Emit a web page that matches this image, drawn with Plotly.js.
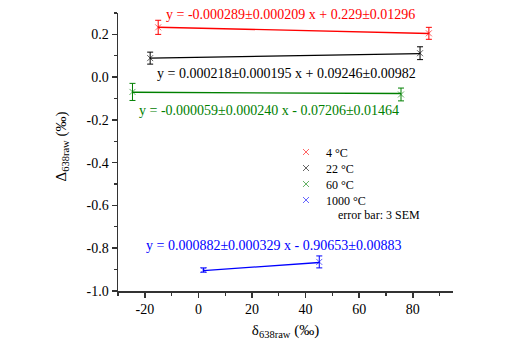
<!DOCTYPE html>
<html><head><meta charset="utf-8">
<script src="https://cdn.plot.ly/plotly-3.0.1.min.js"></script>
<style>body{margin:0;background:#fff}#c{width:518px;height:355px}</style>
</head><body><div id="c"></div>
<script>
const seriesNames = ['4 °C', '22 °C', '60 °C', '1000 °C'];
const colors = ['#ff0000', '#000000', '#008000', '#0000ff'];
const xVals = [[-15, 86], [-18, 82.7], [-24.6, 75.6], [1.9, 45.1]];
const yVals = [[0.233, 0.205], [0.089, 0.112], [-0.069, -0.081], [-0.902, -0.864]];
const yErr = [[0.033, 0.028], [0.028, 0.030], [0.040, 0.030], [0.010, 0.028]];
const slopes = [-0.000289, 0.000218, -0.000059, 0.000882];
const intercepts = [0.229, 0.09246, -0.07206, -0.90653];
const equations = [
  'y = -0.000289±0.000209 x + 0.229±0.01296',
  'y = 0.000218±0.000195 x + 0.09246±0.00982',
  'y = -0.000059±0.000240 x - 0.07206±0.01464',
  'y = 0.000882±0.000329 x - 0.90653±0.00883'
];
const xTickVals = [-20, 0, 20, 40, 60, 80];
const xTickText = ['-20', '0', '20', '40', '60', '80'];
const yTickVals = [-1.0, -0.8, -0.6, -0.4, -0.2, 0.0, 0.2];
const yTickText = ['-1.0', '-0.8', '-0.6', '-0.4', '-0.2', '0.0', '0.2'];

// layout positions (not data)
const eqPos = [[34.5, 0.294], [32.8, 0.019], [26.5, -0.154], [28, -0.785]];
const legendY = [0.5, 0.4424, 0.3849, 0.3273];
const legendIds = ['legend', 'legend2', 'legend3', 'legend4'];

const traces = [];
for (let i = 0; i < seriesNames.length; i++) {
  const xs = xVals[i];
  const lx = [Math.min(...xs), Math.max(...xs)];
  traces.push({
    x: lx, y: lx.map(v => slopes[i] * v + intercepts[i]),
    mode: 'lines', line: {color: colors[i], width: 1.3}, showlegend: false, hoverinfo: 'skip'
  });
}
for (let i = 0; i < seriesNames.length; i++) {
  traces.push({
    x: xVals[i], y: yVals[i], name: seriesNames[i], mode: 'markers', legend: legendIds[i],
    marker: {symbol: 'x-thin', size: 6, color: colors[i], opacity: 0.6, line: {color: colors[i], width: 1}},
    error_y: {type: 'data', array: yErr[i], visible: true, color: colors[i], thickness: 1, width: 3}
  });
}

const serif = 'Liberation Serif';
const annotations = equations.map((t, i) => ({
  x: eqPos[i][0], y: eqPos[i][1], xref: 'x', yref: 'y', text: t, showarrow: false,
  font: {family: serif, size: 14, color: colors[i]}
}));
annotations.push({
  xref: 'paper', yref: 'paper', x: 0.65, y: 0.272, xanchor: 'left', yanchor: 'middle',
  text: 'error bar: 3 SEM', showarrow: false,
  font: {family: serif, size: 12, color: '#000'}
});
annotations.push({
  xref: 'paper', yref: 'paper', x: -0.167, y: 0.52, xanchor: 'center', yanchor: 'middle',
  text: 'Δ<sub>638raw</sub> (‰)', textangle: -90, showarrow: false,
  font: {family: serif, size: 15, color: '#000'}
});

function axisBase() {
  return {
    showgrid: false, zeroline: false, showline: true, linecolor: '#333', linewidth: 1.5,
    ticks: 'outside', ticklen: 5, tickwidth: 1.5, tickcolor: '#333', mirror: false,
    tickfont: {family: serif, size: 14, color: '#000'}
  };
}

const layout = {
  width: 518, height: 355,
  margin: {l: 118, r: 65, t: 13, b: 64},
  paper_bgcolor: '#fff', plot_bgcolor: '#fff',
  font: {family: serif, color: '#000'},
  xaxis: Object.assign(axisBase(), {
    range: [-30, 95], tickmode: 'array', tickvals: xTickVals, ticktext: xTickText,
    minor: {dtick: 10, tick0: 0, ticks: 'outside', ticklen: 3, tickcolor: '#333', tickwidth: 1.2},
    title: {text: 'δ<sub>638raw</sub> (‰)', font: {family: serif, size: 15, color: '#000'}, standoff: 8}
  }),
  yaxis: Object.assign(axisBase(), {
    range: [-1.0, 0.3], tickmode: 'array', tickvals: yTickVals, ticktext: yTickText,
    minor: {dtick: 0.1, tick0: 0, ticks: 'outside', ticklen: 3, tickcolor: '#333', tickwidth: 1.2}
  }),
  showlegend: true,
  annotations: annotations
};
legendIds.forEach((id, i) => {
  layout[id] = {x: 0.5015, y: legendY[i], xanchor: 'left', yanchor: 'middle', bgcolor: 'rgba(0,0,0,0)',
    font: {family: serif, size: 12, color: '#000'}};
});

Plotly.newPlot('c', traces, layout, {displayModeBar: false, staticPlot: true});
</script></body></html>
